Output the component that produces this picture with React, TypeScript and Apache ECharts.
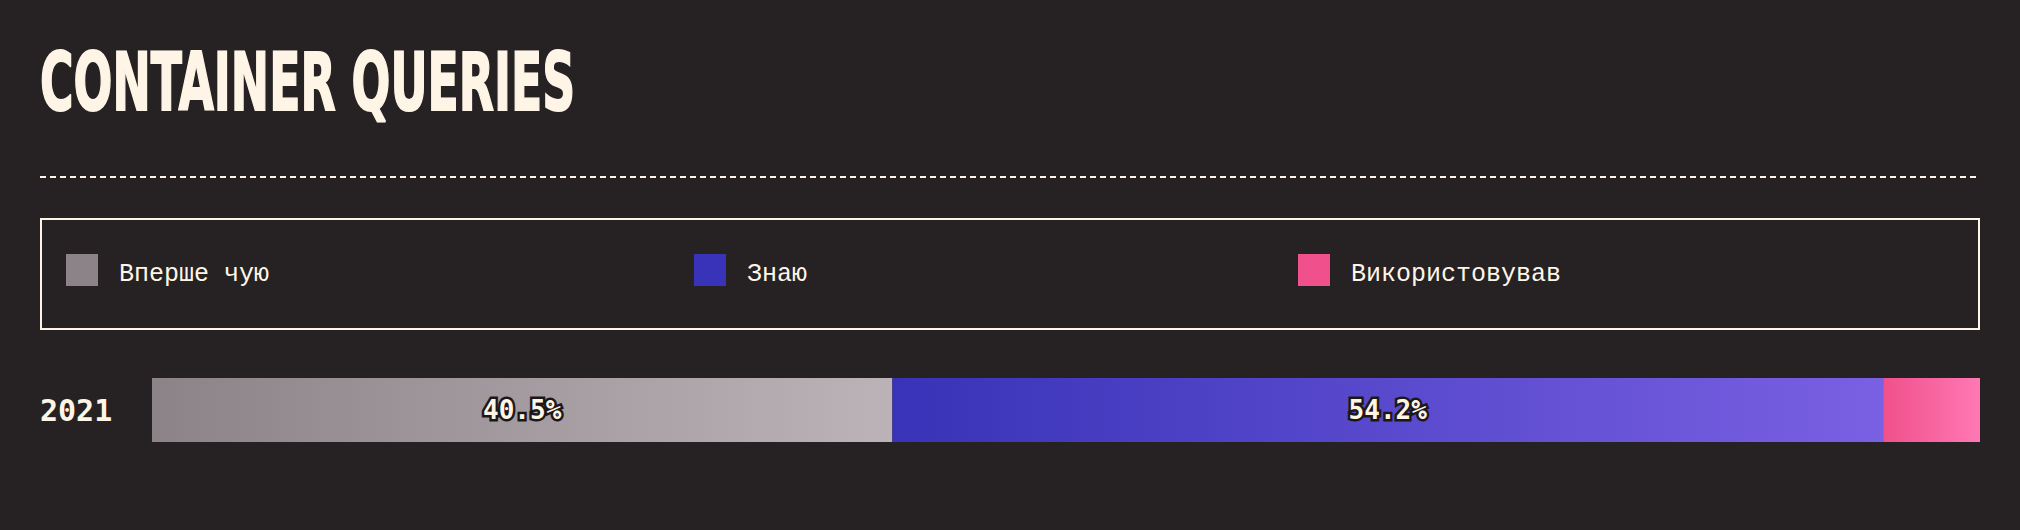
import React, { useEffect, useRef } from "react";
import * as echarts from "echarts";

const TITLE = "CONTAINER QUERIES";
const YEARS = ["2021"];
const SERIES_NAMES = ["Вперше чую", "Знаю", "Використовував"];
const NEVER_HEARD = [40.5];
const KNOW = [54.2];
const USED = [5.3];
const LABEL_VISIBLE = [true, true, false];

const BG = "#262224";
const CREAM = "#fff5e6";
const GRADIENTS: [string, string][] = [
  ["#8c8388", "#bbb3b7"],
  ["#3833b8", "#7a60e2"],
  ["#f0508b", "#ff78b4"],
];
const SOLID = ["#8c8388", "#3833b8", "#f0508b"];
const LEGEND_LEFT = [66, 694, 1298];

export default function App() {
  const ref = useRef<HTMLDivElement>(null);
  useEffect(() => {
    document.body.style.margin = "0";
    document.body.style.background = BG;
    const chart = echarts.init(ref.current!, null, { renderer: "svg" });
    const values = [NEVER_HEARD, KNOW, USED];
    const grad = (c: [string, string]) =>
      new echarts.graphic.LinearGradient(0, 0, 1, 0, [
        { offset: 0, color: c[0] },
        { offset: 1, color: c[1] },
      ]);
    const legendFont = "'Liberation Mono', 'DejaVu Sans Mono', monospace";
    const option: any = {
      animation: false,
      backgroundColor: BG,
      graphic: [
        {
          type: "text",
          x: 40,
          y: 82,
          scaleX: 0.565,
          style: {
            text: TITLE,
            fill: CREAM,
            stroke: CREAM,
            lineWidth: 2,
            font: "bold 81px 'DejaVu Sans'",
            textVerticalAlign: "middle",
            verticalAlign: "middle",
          },
        },
        {
          type: "line",
          shape: { x1: 40, y1: 177, x2: 1980, y2: 177 },
          style: { stroke: CREAM, lineWidth: 2, lineDash: [6, 4] },
        },
        {
          type: "rect",
          shape: { x: 41, y: 219, width: 1938, height: 110 },
          style: { fill: "none", stroke: CREAM, lineWidth: 2 },
        },
      ],
      legend: SERIES_NAMES.map((n, i) => ({
        data: [n],
        left: LEGEND_LEFT[i],
        top: 254,
        padding: 0,
        icon: "rect",
        itemWidth: 32,
        itemHeight: 32,
        selectedMode: false,
        itemStyle: { color: SOLID[i], borderWidth: 0 },
        formatter: (name: string) => `{t|${name}}`,
        textStyle: {
          color: CREAM,
          fontFamily: legendFont,
          fontSize: 25,
          rich: {
            t: {
              color: CREAM,
              fontFamily: legendFont,
              fontSize: 25,
              padding: [8, 0, 0, 16],
            },
          },
        },
      })),
      grid: { left: 152, right: 40, top: 378, height: 64 },
      xAxis: {
        type: "value",
        min: 0,
        max: 100,
        show: false,
      },
      yAxis: {
        type: "category",
        data: YEARS,
        axisLine: { show: false },
        axisTick: { show: false },
        axisLabel: {
          align: "left",
          margin: 112,
          color: CREAM,
          fontWeight: "bold",
          fontSize: 30,
          fontFamily: "'DejaVu Sans Mono', monospace",
        },
      },
      series: SERIES_NAMES.map((n, i) => ({
        type: "bar",
        name: n,
        stack: "total",
        barWidth: 64,
        data: values[i],
        itemStyle: { color: grad(GRADIENTS[i]) },
        label: {
          show: LABEL_VISIBLE[i],
          position: "inside",
          formatter: (p: any) => `${p.value}%`,
          color: CREAM,
          fontWeight: "bold",
          fontSize: 26,
          fontFamily: "'DejaVu Sans Mono', monospace",
          textBorderColor: "#1c1819",
          textBorderWidth: 5,
        },
      })),
    };
    chart.setOption(option);
    return () => chart.dispose();
  }, []);
  return <div ref={ref} style={{ width: 2020, height: 530 }} />;
}
